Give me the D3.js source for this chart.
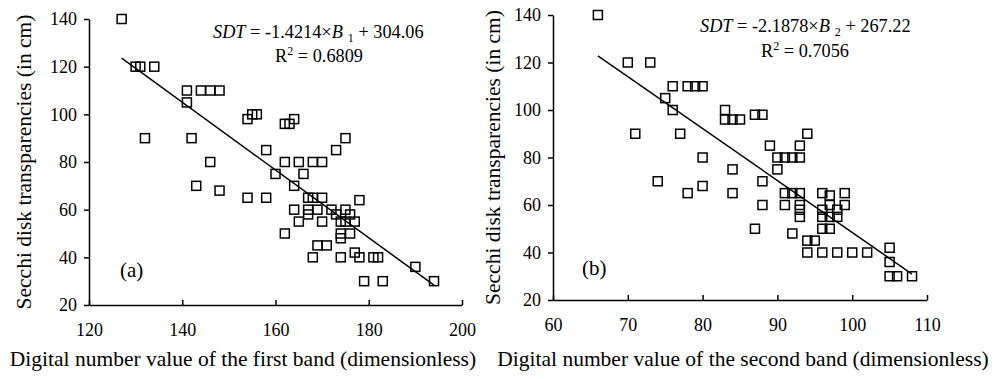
<!DOCTYPE html>
<html lang="en">
	<head>
		<meta charset="utf-8">
		<title>Secchi disk transparency vs band DN</title>
		<script src="https://cdn.jsdelivr.net/npm/d3@7"></script>
		<style type="text/css">
			body { margin: 0; background: #fff; }
			svg { font-family: "Liberation Serif", "Times New Roman", serif; }
			.tick text { font-size: 18px; fill: #000; }
			.axis path, .axis line { stroke: #000; stroke-width: 1.5; }
			.title { font-size: 21.5px; fill: #000; text-anchor: middle; }
			.label { font-size: 21px; fill: #000; }
			.eq { font-size: 18.3px; fill: #000; }
		</style>
	</head>
	<body>
		<script type="text/javascript">

			var w = 1000;
			var h = 379;

			// panel (a): first band
			var band1X = [127, 130, 131, 134, 132, 141, 141, 144, 146, 148, 142, 146, 143, 148,
				154, 155, 156, 162, 163, 164, 158, 162, 160, 154, 158, 162, 175, 173, 165, 168,
				170, 166, 164, 167, 168, 170, 178, 164, 167, 167, 169, 172, 173, 175, 176, 165,
				170, 174, 175, 177, 174, 174, 176, 169, 171, 168, 174, 177, 178, 181, 182, 190,
				179, 183, 194];
			var band1Y = [140, 120, 120, 120, 90, 110, 105, 110, 110, 110, 90, 80, 70, 68,
				98, 100, 100, 96, 96, 98, 85, 80, 75, 65, 65, 50, 90, 85, 80, 80,
				80, 75, 70, 65, 65, 65, 64, 60, 60, 58, 60, 60, 58, 60, 58, 55,
				55, 55, 55, 55, 50, 48, 50, 45, 45, 40, 40, 42, 40, 40, 40, 36,
				30, 30, 30];

			// panel (b): second band
			var band2X = [66, 70, 73, 76, 78, 79, 80, 75, 76, 71, 77, 80, 74, 78, 80, 84, 84,
				83, 83, 84, 85, 87, 88, 94, 89, 93, 90, 91, 92, 93, 90, 88, 88, 87, 91, 92, 93,
				91, 93, 93, 93, 96, 97, 99, 96, 97, 98, 99, 96, 97, 98, 96, 97, 92, 94, 95,
				94, 96, 98, 100, 102, 105, 105, 105, 106, 108];
			var band2Y = [140, 120, 120, 110, 110, 110, 110, 105, 100, 90, 90, 80, 70, 65, 68, 75, 65,
				100, 96, 96, 96, 98, 98, 90, 85, 85, 80, 80, 80, 80, 75, 70, 60, 50, 65, 65, 65,
				60, 60, 58, 55, 65, 64, 65, 58, 60, 58, 60, 55, 55, 55, 50, 50, 48, 45, 45,
				40, 40, 40, 40, 40, 42, 36, 30, 30, 30];

			var yTicks = [20, 40, 60, 80, 100, 120, 140];
			var xTicks1 = [120, 140, 160, 180, 200];
			var xTicks2 = [60, 70, 80, 90, 100, 110];

			var panels = [
				{
					xs: band1X, ys: band1Y, xDomain: [120, 200], xTicks: xTicks1,
					left: 89, right: 462, top: 19, bottom: 305,
					slope: -1.4214, icpt: 304.06, fitFrom: 127, fitTo: 194,
					slopeText: "-1.4214", icptText: "304.06", sub: "1", r2: "0.6809",
					eqX: 213, eqY: 38, r2X: 319, r2Y: 62,
					label: "(a)", labelX: 120, labelY: 277,
					yTitleX: 31, xTitle: "Digital number value of the first band (dimensionless)", xTitleX: 243
				},
				{
					xs: band2X, ys: band2Y, xDomain: [60, 110], xTicks: xTicks2,
					left: 553, right: 927, top: 15, bottom: 300,
					slope: -2.1878, icpt: 267.22, fitFrom: 66, fitTo: 108,
					slopeText: "-2.1878", icptText: "267.22", sub: "2", r2: "0.7056",
					eqX: 700, eqY: 32, r2X: 805, r2Y: 57,
					label: "(b)", labelX: 582, labelY: 275,
					yTitleX: 500, xTitle: "Digital number value of the second band (dimensionless)", xTitleX: 743
				}
			];

			var svg = d3.select("body")
				.append("svg")
				.attr("width", w)
				.attr("height", h);

			panels.forEach(function(p) {
				var x = d3.scaleLinear().domain(p.xDomain).range([p.left, p.right]);
				var y = d3.scaleLinear().domain([20, 140]).range([p.bottom, p.top]);

				//y axis, ticks pointing out
				svg.append("g")
					.attr("class", "axis")
					.attr("transform", "translate(" + p.left + ",0)")
					.call(d3.axisLeft(y).tickValues(yTicks).tickSizeInner(5).tickSizeOuter(0).tickPadding(7))
					.attr("font-family", null)
					.attr("font-size", null);

				//x axis, ticks pointing in
				svg.append("g")
					.attr("class", "axis")
					.attr("transform", "translate(0," + p.bottom + ")")
					.call(d3.axisBottom(x).tickValues(p.xTicks).tickSizeInner(-5).tickSizeOuter(0).tickPadding(18))
					.attr("font-family", null)
					.attr("font-size", null);

				//points as hollow squares
				var pts = p.xs.map(function(d, i) { return [d, p.ys[i]]; });
				svg.append("g")
					.selectAll("rect")
					.data(pts)
					.enter()
					.append("rect")
					.attr("x", function(d) { return x(d[0]) - 4.5; })
					.attr("y", function(d) { return y(d[1]) - 4.5; })
					.attr("width", 9)
					.attr("height", 9)
					.attr("fill", "none")
					.attr("stroke", "#000")
					.attr("stroke-width", 1.5);

				//fitted line
				svg.append("line")
					.attr("x1", x(p.fitFrom))
					.attr("y1", y(p.slope * p.fitFrom + p.icpt))
					.attr("x2", x(p.fitTo))
					.attr("y2", y(p.slope * p.fitTo + p.icpt))
					.attr("stroke", "#000")
					.attr("stroke-width", 1.5);

				//equation
				var eq = svg.append("text")
					.attr("class", "eq")
					.attr("x", p.eqX)
					.attr("y", p.eqY);
				eq.append("tspan").attr("font-style", "italic").text("SDT");
				eq.append("tspan").text(" = " + p.slopeText + "×");
				eq.append("tspan").attr("font-style", "italic").text("B");
				eq.append("tspan").attr("font-size", "12px").attr("dx", 5).attr("dy", 4).text(p.sub);
				eq.append("tspan").attr("dy", -4).text(" + " + p.icptText);

				var r2 = svg.append("text")
					.attr("class", "eq")
					.attr("x", p.r2X)
					.attr("y", p.r2Y)
					.attr("text-anchor", "middle");
				r2.append("tspan").text("R");
				r2.append("tspan").attr("font-size", "12px").attr("dy", -7).text("2");
				r2.append("tspan").attr("dy", 7).text(" = " + p.r2);

				svg.append("text")
					.attr("class", "label")
					.attr("x", p.labelX)
					.attr("y", p.labelY)
					.text(p.label);

				svg.append("text")
					.attr("class", "title")
					.attr("transform", "translate(" + p.yTitleX + "," + ((p.top + p.bottom) / 2) + ") rotate(-90)")
					.text("Secchi disk transparencies (in cm)");

				svg.append("text")
					.attr("class", "title")
					.attr("x", p.xTitleX)
					.attr("y", 366)
					.text(p.xTitle);
			});

		</script>
	</body>
</html>
